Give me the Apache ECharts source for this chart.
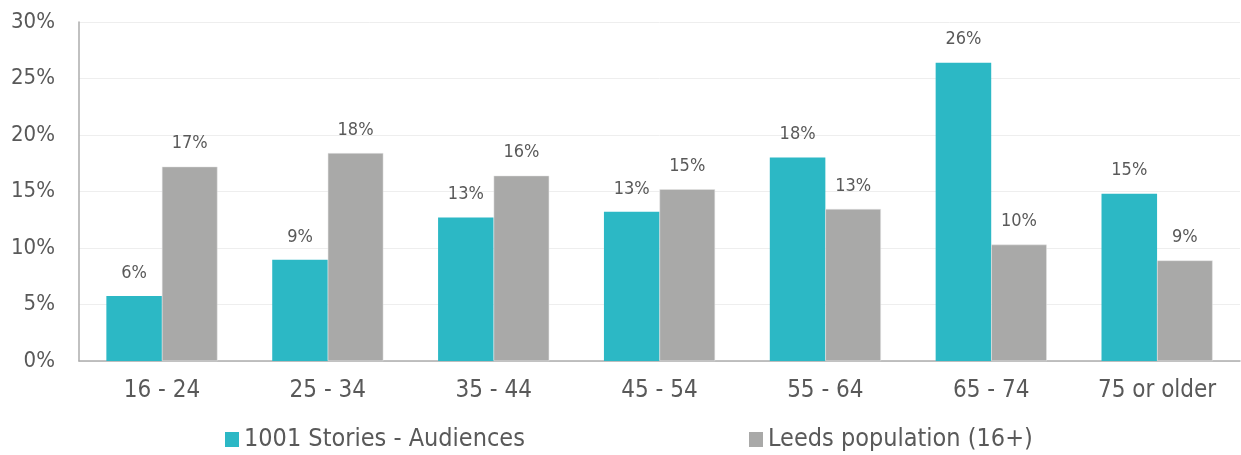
<!DOCTYPE html>
<html>
<head>
<meta charset="utf-8">
<script src="https://cdn.jsdelivr.net/npm/echarts@6/dist/echarts.min.js"></script>
<style>
  html, body { margin: 0; padding: 0; background: #fff; }
  #chart { width: 1241px; height: 455px; }
</style>
</head>
<body>
<div id="chart"></div>
<script>
// Age bands and share of each group (percent)
const categories = ['16 - 24', '25 - 34', '35 - 44', '45 - 54', '55 - 64', '65 - 74', '75 or older'];
const audiences = [5.75, 8.95, 12.7, 13.2, 18.0, 26.4, 14.8];
const leeds = [17.2, 18.4, 16.4, 15.2, 13.45, 10.3, 8.9];
const seriesNames = ['1001 Stories - Audiences', 'Leeds population (16+)'];
const yTicks = { min: 0, max: 30, interval: 5 };

const FONT = '"DejaVu Sans Condensed", "DejaVu Sans", sans-serif';
const TEXT = '#595959';

const chart = echarts.init(document.getElementById('chart'), null, { renderer: 'canvas' });

const labelCfg = {
  show: true,
  position: 'top',
  distance: 14,
  color: TEXT,
  fontFamily: FONT,
  fontSize: 18,
  formatter: p => Math.round(p.value) + '%'
};

const legendText = { color: TEXT, fontFamily: FONT, fontSize: 25 };

chart.setOption({
  animation: false,
  grid: { left: 79, right: 1, top: 22, bottom: 94, containLabel: false },
  legend: [
    {
      data: [seriesNames[0]],
      left: 220, top: 422,
      icon: 'rect', itemWidth: 14, itemHeight: 15, itemGap: 6,
      itemStyle: { borderWidth: 0 },
      textStyle: legendText
    },
    {
      data: [seriesNames[1]],
      left: 744, top: 422,
      icon: 'rect', itemWidth: 14, itemHeight: 15, itemGap: 6,
      itemStyle: { borderWidth: 0 },
      textStyle: legendText
    }
  ],
  xAxis: {
    type: 'category',
    data: categories,
    axisLine: { lineStyle: { color: '#ADADAD', width: 1.5 } },
    axisTick: { show: false },
    axisLabel: { color: TEXT, fontFamily: FONT, fontSize: 24, margin: 18 }
  },
  yAxis: {
    type: 'value',
    min: yTicks.min, max: yTicks.max, interval: yTicks.interval,
    axisLine: { show: true, lineStyle: { color: '#ADADAD', width: 1.5 } },
    axisTick: { show: false },
    splitLine: { lineStyle: { color: '#EEEEEE', width: 1 } },
    axisLabel: { color: TEXT, fontFamily: FONT, fontSize: 22, margin: 24, formatter: '{value}%' }
  },
  series: [
    {
      name: seriesNames[0], type: 'bar', data: audiences,
      barGap: '0%', barCategoryGap: '33%',
      itemStyle: { color: '#2CB8C5' },
      label: labelCfg
    },
    {
      name: seriesNames[1], type: 'bar', data: leeds,
      itemStyle: { color: '#A9A9A8', borderColor: '#E6E6E6', borderWidth: 0.5 },
      label: labelCfg
    }
  ]
});
</script>
</body>
</html>
